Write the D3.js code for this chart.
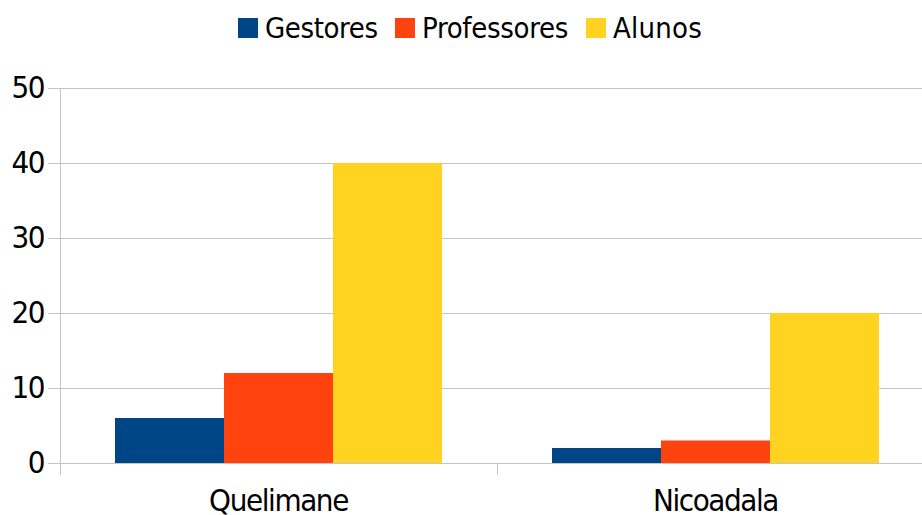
<!DOCTYPE html>
<html>
<head>
<meta charset="utf-8">
<script src="https://cdn.jsdelivr.net/npm/d3@7"></script>
<style>
  html, body { margin: 0; padding: 0; background: #fff; }
  svg text { font-family: "DejaVu Sans", sans-serif; font-stretch: condensed; fill: #000; }
</style>
</head>
<body>
<svg id="chart" width="922" height="515"></svg>
<script>
// Chart data
const categories = ["Quelimane", "Nicoadala"];
const seriesNames = ["Gestores", "Professores", "Alunos"];
const gestores = [6, 2];
const professores = [12, 3];
const alunos = [40, 20];
const yTicks = [0, 10, 20, 30, 40, 50];
const colors = ["#004586", "#ff420e", "#ffd320"];

const seriesValues = [gestores, professores, alunos];
const rows = categories.map((c, i) => ({
  category: c,
  values: seriesNames.map((s, j) => ({ series: s, value: seriesValues[j][i], color: colors[j] }))
}));

const svg = d3.select("#chart");
const plot = { left: 60, right: 934, top: 88, bottom: 463 };

const x = d3.scaleBand().domain(categories).range([plot.left, plot.right]);
const groupPad = 55 / 437;
const xs = d3.scaleBand().domain(seriesNames)
  .range([x.bandwidth() * groupPad, x.bandwidth() * (1 - groupPad)]);
const y = d3.scaleLinear().domain([0, 50]).range([plot.bottom, plot.top]);

const gridColor = "#c4c4c4";

// Horizontal gridlines with y axis labels
const yAxis = d3.axisLeft(y).tickValues(yTicks)
  .tickSize(-(plot.right - plot.left)).tickPadding(16).tickSizeOuter(0);
const gy = svg.append("g").attr("transform", `translate(${plot.left},0)`).call(yAxis);
gy.select(".domain").remove();
gy.selectAll(".tick line").attr("stroke", gridColor).attr("x1", -12);
gy.selectAll(".tick text")
  .attr("font-size", 31).attr("letter-spacing", -1.5)
  .attr("dy", "0.30em").attr("x", -16);

// Vertical axis line
svg.append("line")
  .attr("x1", plot.left + 0.5).attr("x2", plot.left + 0.5)
  .attr("y1", plot.top).attr("y2", plot.bottom + 12)
  .attr("stroke", gridColor);

// Category separator ticks below the baseline
svg.append("g").selectAll("line")
  .data(categories.slice(1))
  .join("line")
  .attr("x1", d => x(d) + 0.5).attr("x2", d => x(d) + 0.5)
  .attr("y1", plot.bottom).attr("y2", plot.bottom + 12)
  .attr("stroke", gridColor);

// Bars
const groups = svg.append("g").selectAll("g")
  .data(rows).join("g")
  .attr("transform", d => `translate(${x(d.category)},0)`);
groups.selectAll("rect")
  .data(d => d.values).join("rect")
  .attr("x", d => xs(d.series))
  .attr("width", xs.bandwidth())
  .attr("y", d => y(d.value))
  .attr("height", d => y(0) - y(d.value))
  .attr("fill", d => d.color);

// Category labels
svg.append("g").selectAll("text")
  .data(categories).join("text")
  .attr("x", d => x(d) + x.bandwidth() / 2)
  .attr("y", 511)
  .attr("text-anchor", "middle")
  .attr("font-size", 31).attr("letter-spacing", -1.4)
  .text(d => d);

// Legend
const legendItems = [
  { name: seriesNames[0], color: colors[0], x: 238, ls: -0.4 },
  { name: seriesNames[1], color: colors[1], x: 395, ls: -0.3 },
  { name: seriesNames[2], color: colors[2], x: 586, ls: 0.2 }
];
const lg = svg.append("g").selectAll("g")
  .data(legendItems).join("g")
  .attr("transform", d => `translate(${d.x},0)`);
lg.append("rect").attr("x", 0).attr("y", 18).attr("width", 20).attr("height", 20)
  .attr("fill", d => d.color);
lg.append("text").attr("x", 27).attr("y", 38)
  .attr("font-size", 29).attr("letter-spacing", d => d.ls)
  .text(d => d.name);
</script>
</body>
</html>
